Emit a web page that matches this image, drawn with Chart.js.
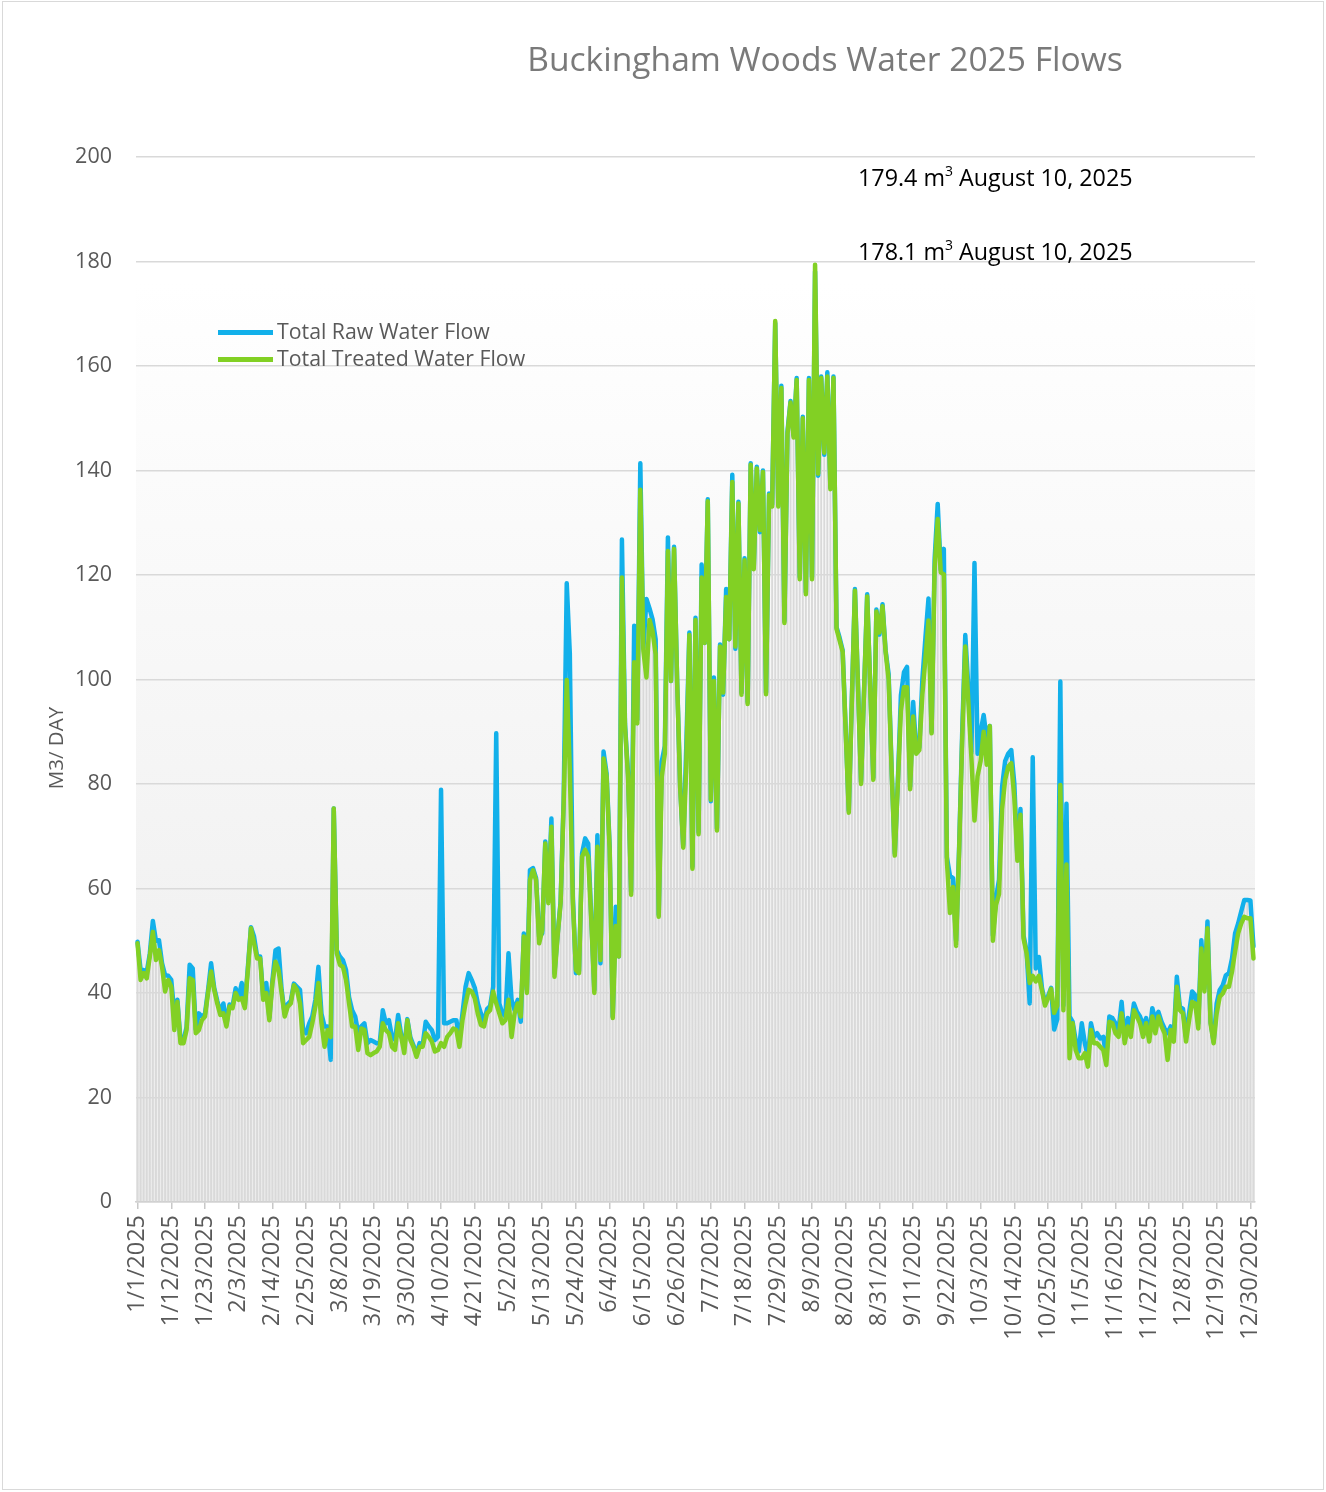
<!DOCTYPE html>
<html><head><meta charset="utf-8">
<script src="https://cdn.jsdelivr.net/npm/chart.js@4"></script>
<style>
html,body{margin:0;padding:0;background:#fff;}
#wrap{position:relative;width:1326px;height:1492px;overflow:hidden;}
#frame{position:absolute;left:2px;top:1px;width:1322px;height:1489px;border:1px solid #d9d9d9;box-sizing:border-box;pointer-events:none;}
canvas{position:absolute;left:0;top:0;}
.title{position:absolute;left:825px;top:35px;transform:translateX(-50%);white-space:nowrap;font:33.6px 'Open Sans',sans-serif;color:#7a7a7a;}
.note{position:absolute;left:858px;white-space:nowrap;font:23.3px 'Open Sans',sans-serif;color:#000;}
.note sup{font-size:14px;vertical-align:10px;line-height:0;}
.leg{position:absolute;left:218px;white-space:nowrap;font:21.3px 'Open Sans',sans-serif;color:#595959;}
.leg i{display:inline-block;width:55px;height:4.5px;vertical-align:middle;margin-right:4px;position:relative;top:-1px;}
.ytitle{position:absolute;left:55px;top:748px;transform:translate(-50%,-50%) rotate(-90deg);white-space:nowrap;font:20.5px 'Open Sans',sans-serif;color:#595959;}
</style></head>
<body><div id="wrap">
<canvas id="c" width="1326" height="1492"></canvas>
<div id="frame"></div>
<div class="title" id="title"></div>
<div class="ytitle" id="ytitle"></div>
<div class="note" id="n1" style="top:161px"></div>
<div class="note" id="n2" style="top:235px"></div>
<div class="leg" id="l1" style="top:316px"></div>
<div class="leg" id="l2" style="top:343px"></div>
</div>
<script>
const TITLE = 'Buckingham Woods Water 2025 Flows';
const Y_TITLE = 'M3/ DAY';
const SERIES_NAMES = ['Total Raw Water Flow', 'Total Treated Water Flow'];
const NOTES = [['179.4', 'August 10, 2025'], ['178.1', 'August 10, 2025']];
const BLUE = '#12b0ea';
const GREEN = '#82d024';

const tickLabels = ['1/1/2025','1/12/2025','1/23/2025','2/3/2025','2/14/2025','2/25/2025','3/8/2025','3/19/2025','3/30/2025','4/10/2025','4/21/2025','5/2/2025','5/13/2025','5/24/2025','6/4/2025','6/15/2025','6/26/2025','7/7/2025','7/18/2025','7/29/2025','8/9/2025','8/20/2025','8/31/2025','9/11/2025','9/22/2025','10/3/2025','10/14/2025','10/25/2025','11/5/2025','11/16/2025','11/27/2025','12/8/2025','12/19/2025','12/30/2025'];

const treated = [
49.5,42.5,43.8,42.8,47,51.7,46.3,48.2,45,40.3,
42.5,41.2,32.9,38.3,30.4,30.4,32.9,42.8,42.5,32.3,
32.9,34.8,35.5,40,44.1,40.6,38,35.8,36.1,33.6,
37.4,37.1,40,38.7,39,37.1,44.4,52.4,49.5,46.6,
46.6,38.7,40,34.8,41.9,46,44.4,40,35.5,37.4,
38,41.5,40.6,38,30.4,31,31.6,34.2,37.4,41.9,
34.2,29.7,32.9,31.6,75.3,47.6,45.4,45,42.5,38,
33.6,33.6,29.1,33.2,32.9,28.5,28.1,28.5,28.8,29.7,
34.2,32.9,32.3,29.7,29.1,34.2,31.6,28.5,34.8,31,
29.7,27.8,29.7,29.7,32.3,31.6,30.7,28.8,29.1,30.4,
29.7,31.6,32.3,33.2,32.9,29.7,34.8,38,40.6,40.3,
39,36,33.9,33.6,36.1,36.7,40.3,38,36.1,34.2,
34.8,38.7,31.6,36.1,38,35.5,50.8,40,61.6,63.5,
61.6,49.5,52,68.6,57.2,71.8,43.1,50.8,57.2,76.3,
99.9,82.7,57.2,44.4,43.8,66.1,67.4,66.1,54,40,
68,46.3,84.9,81.4,67.4,35.2,52.8,47,119.5,90.9,
81.4,58.8,103.3,91.6,136.3,105.5,100.4,111.4,109.2,104.8,
54.6,81.4,85.8,124.6,99.7,125,99.7,79.2,67.8,83.6,
108.5,63.8,111.4,70.4,119.5,107,134.1,77,99.7,71.1,
106.3,97.5,115.8,107.7,137.8,106.3,133.7,97.1,122.8,95.3,
141.1,121.1,140.4,128.6,139.7,97.2,135.3,133.1,168.6,133.1,
155.8,110.8,147,153,146.3,157.3,119.2,150,116.3,157.3,
119.2,179.4,139.4,157.7,143.4,158,136.4,157.7,109.7,107.5,
105.3,89.9,74.5,95.8,117,98.7,80,98,115.9,98.3,
80.8,113,109,114,105.3,100,82,66.3,80,94,
98.5,98.5,79,92.9,85.8,86.5,97.1,104,111.3,89.7,
121.2,130.7,120.5,120.1,65.3,55.3,60.3,49,67.4,88.6,
106.3,95.7,85,73,81.5,84.4,90,83.7,91.1,50,
56.8,58.9,75.2,80.8,83.3,84,77.3,65.3,74.1,50.4,
47.6,41.9,43.3,42.2,43.3,40.5,37.6,39,40.8,36.2,
37.6,79.8,36.7,64.6,27.5,34.2,29.1,27.5,27.5,28.5,
25.9,32.9,30.4,30.4,29.7,29.1,26.2,34.5,34.2,32.3,
31.6,36.1,30.4,33.6,31.6,36.7,35.5,34.2,31.6,34.2,
30.7,35.5,32.3,35.5,33.6,32.3,27.2,32.9,30.7,41.2,
36.7,36.1,30.7,34.8,38.3,38,33.2,48.5,40.3,52.4,
34.2,30.4,36.1,39.3,39.9,41.2,41.2,44.1,47.9,51.4,
53.3,54.6,54.3,54.3,46.6
];

const raw = [
49.8,44.4,44.4,44,47.5,53.8,50,50.1,45.7,43.4,
43.3,42.5,36,38.7,31,31,33.5,45.4,44.7,33,
36.1,35.5,36,40.5,45.7,41,38.5,36.3,38,34,
37.8,37.5,40.9,39.2,41.9,37.6,45,52.6,50.8,47,
47,39.2,41.9,35.3,42.4,48.2,48.5,40.6,36,37.9,
38.5,41.8,41.2,40.6,33,32.3,34.2,35.5,38.7,45,
36,33.6,33.6,27.2,75.3,48.2,47,46.3,44.4,39.2,
36.7,35.5,32.3,33.6,34.2,30.4,31,30.7,30.4,30.4,
36.7,34.2,34.8,31.6,31,35.8,32,29.7,35,31.5,
30,28.2,30.4,30,34.5,33.6,32.9,31,31.6,78.9,
34.2,34.2,34.5,34.8,34.8,31,36.1,41.2,43.8,42.5,
41,38,36.1,34.5,36.9,37.5,41.2,89.7,38,36.1,
35.5,47.6,38.7,36.7,38.7,34.5,51.4,40.6,63.5,63.9,
62,50.8,51.4,69,57.8,73.4,43.8,51,57.5,77,
118.4,105,58.5,43.8,44.2,66.7,69.6,68.6,54.5,40.6,
70.2,45.7,86.2,82,68,35.5,56.5,47,126.8,91.5,
82,59.4,110.3,92.3,141.4,106,115.4,113.6,111.5,107.7,
55,84.3,87.3,127.2,99.7,125.4,100,79.5,68.2,87.3,
109,64.2,111.8,70.8,122,107,134.5,76.7,100.4,71.5,
106.7,97.1,117.3,107.7,139.2,105.9,134,97.5,123.2,95.7,
141.4,121.5,140.7,128.2,140,97.5,135.6,133.5,168.2,133.8,
156.2,111.2,147.4,153.3,146.7,157.7,119.6,150.3,116.7,157.7,
119.6,178.1,139,158,143,158.8,136.8,158,110,108,
105.6,90.3,74.9,96.2,117.3,99,80.4,98.3,116.3,98.6,
81.2,113.4,108.6,114.4,105.6,101,82.4,66.7,80.4,97,
101.4,102.4,79.5,95.7,86.2,87,100,108,115.5,90,
123,133.6,121,125,66,62.4,62,50,68,90,
108.5,98.5,86,122.3,85.8,90,93.2,88.5,91.1,51,
58,61.7,79.4,84.4,85.8,86.5,80,66,75.2,51,
48,38,85.1,44.7,46.9,41,38,39.4,41,33,
35,99.6,37.6,76.2,35.5,34.5,31,28.8,34.2,30.4,
27.8,34.2,31.6,32.3,31.3,31.6,27.8,35.5,35.2,34.2,
32.9,38.3,31,35.2,33.6,38,36.4,35.5,33.8,35.2,
31.6,37.1,34.8,36.4,34.5,33.2,32.3,33.6,31.6,43.1,
37.3,37,31.6,36.1,40.3,39.6,34.2,50.1,40.9,53.7,
34.5,30.7,38,40.6,41.5,43.4,43.8,46.6,51.4,53.3,
55.6,57.8,57.8,57.7,48.9
];

// category labels: every day of 2025
const dates = [];
for (let i = 0; i < raw.length; i++) {
  const d = new Date(Date.UTC(2025, 0, 1 + i));
  dates.push((d.getUTCMonth() + 1) + '/' + d.getUTCDate() + '/' + d.getUTCFullYear());
}
const tickSet = new Set(tickLabels);

// HTML texts
document.getElementById('title').textContent = TITLE;
document.getElementById('ytitle').textContent = Y_TITLE;
document.getElementById('n1').innerHTML = NOTES[0][0] + ' m<sup>3</sup> ' + NOTES[0][1];
document.getElementById('n2').innerHTML = NOTES[1][0] + ' m<sup>3</sup> ' + NOTES[1][1];
document.getElementById('l1').innerHTML = '<i style="background:' + BLUE + '"></i>' + SERIES_NAMES[0];
document.getElementById('l2').innerHTML = '<i style="background:' + GREEN + '"></i>' + SERIES_NAMES[1];

const bgPlugin = {
  id: 'bg',
  beforeDraw(chart) {
    const a = chart.chartArea, c = chart.ctx;
    const g = c.createLinearGradient(0, a.top, 0, a.bottom);
    g.addColorStop(0, '#ffffff');
    g.addColorStop(0.12, '#ffffff');
    g.addColorStop(1, '#ececec');
    c.save();
    c.fillStyle = g;
    c.fillRect(a.left, a.top, a.right - a.left, a.bottom - a.top);
    c.restore();
  }
};

const FONT = 'Open Sans';
new Chart(document.getElementById('c'), {
  data: {
    labels: dates,
    datasets: [
      { type: 'line', label: SERIES_NAMES[1], data: treated, borderColor: GREEN, backgroundColor: GREEN,
        borderWidth: 4.5, pointRadius: 0, tension: 0, order: 0, borderJoinStyle: 'round', borderCapStyle: 'round' },
      { type: 'line', label: SERIES_NAMES[0], data: raw, borderColor: BLUE, backgroundColor: BLUE,
        borderWidth: 4.5, pointRadius: 0, tension: 0, order: 1, borderJoinStyle: 'round', borderCapStyle: 'round' },
      { type: 'bar', label: 'column', data: raw, backgroundColor: '#d9d9d9',
        barPercentage: 0.62, categoryPercentage: 1, order: 2 }
    ]
  },
  options: {
    responsive: false, animation: false, devicePixelRatio: 1,
    layout: { padding: { left: 0, right: 71, top: 157, bottom: 0 } },
    plugins: { legend: { display: false }, tooltip: { enabled: false }, title: { display: false } },
    scales: {
      x: {
        type: 'category', offset: true,
        grid: { display: true, drawOnChartArea: false, offset: false, tickLength: 7, color: '#c8c8c8', tickColor: '#c8c8c8', lineWidth: 1.5 },
        border: { display: true, color: '#d0d0d0', width: 1.5 },
        ticks: { autoSkip: false, maxRotation: 90, minRotation: 90, padding: 6, color: '#595959',
          font: { family: FONT, size: 23.5 },
          callback: function (v, i) { return tickSet.has(dates[i]) ? dates[i] : null; } },
        afterFit: function (s) { s.height = 290; }
      },
      y: {
        min: 0, max: 200,
        ticks: { stepSize: 20, padding: 24, color: '#595959', font: { family: FONT, size: 21.5 } },
        grid: { color: '#d9d9d9', lineWidth: 1.5, drawTicks: false },
        border: { display: false },
        title: { display: false },
        afterFit: function (s) { s.width = 136; }
      }
    }
  },
  plugins: [bgPlugin]
});
</script>
</body></html>
